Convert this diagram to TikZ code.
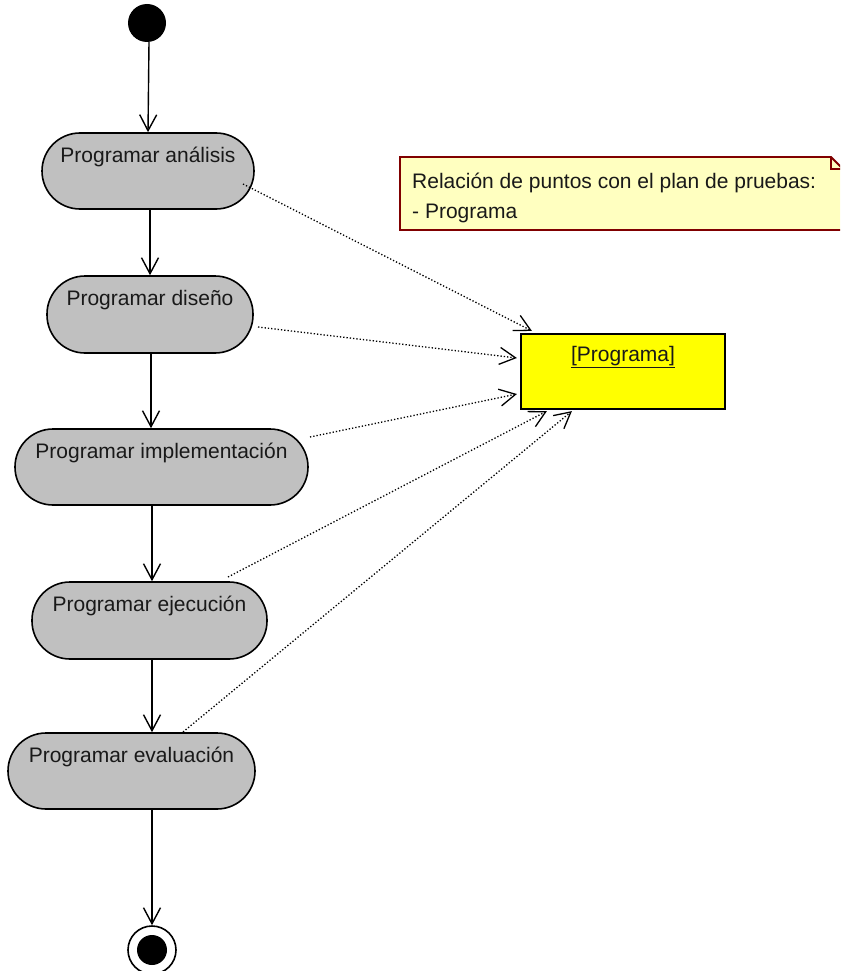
\documentclass[tikz,border=0pt]{standalone}
\usepackage{fontspec}
\setmainfont{Liberation Sans}
\usetikzlibrary{arrows.meta}
\definecolor{actgray}{HTML}{C0C0C0}
\definecolor{objyellow}{HTML}{FFFF00}
\definecolor{notefill}{HTML}{FFFFC0}
\definecolor{noteline}{HTML}{800000}
\tikzset{
  act/.style={draw=black, line width=1.6pt, fill=actgray, rounded corners=38pt, inner sep=0pt},
  lbl/.style={anchor=base, inner sep=0pt, font=\fontsize{21}{25}\selectfont, text=black!90},
  flow/.style={draw=black, line width=1.4pt, -{Straight Barb[length=16pt,width=17pt,line width=1.4pt]}},
  dep/.style={draw=black, line width=1.3pt, dotted, -{Straight Barb[length=16pt,width=17pt,line width=1.3pt]}},
}
\begin{document}
\begin{tikzpicture}[x=1pt,y=-1pt]
\useasboundingbox (0,0) rectangle (840,971);
\clip (0,0) rectangle (840,971);
% start
\node[circle, fill=black, minimum size=38pt, inner sep=0pt] (start) at (147,23) {};
% activities
\node[act, minimum width=212pt, minimum height=76pt] (a1) at (148,171) {};
\node[lbl] (t1) at ([yshift=-30pt]a1.north) {Programar análisis};
\node[act, minimum width=206pt, minimum height=77pt] (a2) at (150,314.5) {};
\node[lbl] (t2) at ([yshift=-30pt]a2.north) {Programar diseño};
\node[act, minimum width=293pt, minimum height=76pt] (a3) at (161.5,467) {};
\node[lbl] (t3) at ([yshift=-30pt]a3.north) {Programar implementación};
\node[act, minimum width=235pt, minimum height=77pt] (a4) at (149.5,620.5) {};
\node[lbl] (t4) at ([yshift=-30pt]a4.north) {Programar ejecución};
\node[act, minimum width=247pt, minimum height=76pt] (a5) at (131.5,771) {};
\node[lbl] (t5) at ([yshift=-30pt]a5.north) {Programar evaluación};
% end
\node[circle, draw=black, line width=1.6pt, fill=white, minimum size=48pt, inner sep=0pt] (end) at (152,950) {};
\node[circle, fill=black, minimum size=30pt, inner sep=0pt] (endin) at (end.center) {};
% object
\node[draw=black, line width=2.2pt, fill=objyellow, minimum width=204pt, minimum height=75pt, inner sep=0pt] (obj) at (623,371.5) {};
\node[lbl] (tobj) at ([yshift=-29pt]obj.north) {\underline{[Programa]}};
% note
\draw[draw=noteline, line width=1.8pt, fill=notefill] (400,157) -- (831,157) -- (846,172) -- (846,230) -- (400,230) -- cycle;
\draw[draw=noteline, line width=1.8pt] (831,157) -- (831,169) -- (846,169);
\node[lbl, anchor=base west] (n1) at (412,188) {Relación de puntos con el plan de pruebas:};
\node[lbl, anchor=base west] (n2) at (412,218) {- Programa};
% control flow
\draw[flow] ([xshift=2pt]start.south) -- ([xshift=1pt]start.south |- a1.north);
\draw[flow] ([xshift=2pt]a1.south) -- ([xshift=2pt]a1.south |- a2.north);
\draw[flow] ([xshift=1pt]a2.south) -- ([xshift=1pt]a2.south |- a3.north);
\draw[flow] ([xshift=-9.5pt]a3.south) -- ([xshift=-9.5pt]a3.south |- a4.north);
\draw[flow] ([xshift=2.5pt]a4.south) -- ([xshift=2.5pt]a4.south |- a5.north);
\draw[flow] ([xshift=20.5pt]a5.south) -- (end.north);
% dependencies
\coordinate (s1) at (243,184);
\coordinate (s2) at (258,327);
\coordinate (s3) at (310,437);
\coordinate (s4) at (228,577);
\coordinate (s5) at (183,732);
\draw[dep] (s1) -- ([xshift=12pt,yshift=2pt]obj.north west);
\draw[dep] (s2) -- ([xshift=-3pt,yshift=13.5pt]obj.west);
\draw[dep] (s3) -- ([xshift=-3pt,yshift=-22.5pt]obj.west);
\draw[dep] (s4) -- ([xshift=27pt,yshift=-1pt]obj.south west);
\draw[dep] (s5) -- ([xshift=52pt,yshift=-1pt]obj.south west);
\end{tikzpicture}
\end{document}
